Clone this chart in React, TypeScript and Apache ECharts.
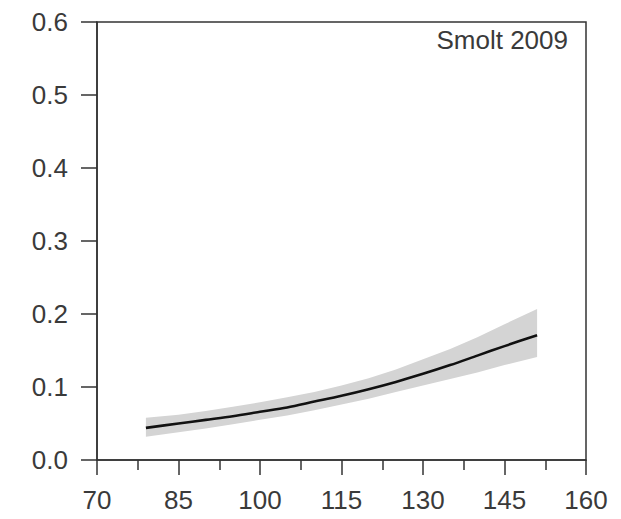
import React, { useEffect, useRef } from "react";
import * as echarts from "echarts";

const xValues = [79, 85, 90, 95, 100, 105, 110, 115, 120, 125, 130, 135, 140, 145, 151];
const meanValues = [0.044, 0.05, 0.055, 0.06, 0.066, 0.072, 0.08, 0.088, 0.097, 0.107, 0.118, 0.13, 0.143, 0.156, 0.171];
const upperValues = [0.058, 0.062, 0.067, 0.073, 0.079, 0.086, 0.093, 0.102, 0.112, 0.124, 0.138, 0.152, 0.168, 0.186, 0.207];
const lowerValues = [0.032, 0.038, 0.043, 0.049, 0.055, 0.061, 0.068, 0.076, 0.084, 0.093, 0.102, 0.111, 0.12, 0.13, 0.141];
const panelLabel = "Smolt 2009";

export default function App() {
  const ref = useRef<HTMLDivElement>(null);
  useEffect(() => {
    if (!ref.current) return;
    const chart = echarts.init(ref.current, undefined, { renderer: "svg" });
    const font = "'Liberation Sans', Arial, sans-serif";
    const axisColor = "#333";
    const textColor = "#3a3a3a";
    const bandData = xValues.map((x, i) => [x, lowerValues[i], upperValues[i]]);
    chart.setOption({
      animation: false,
      backgroundColor: "#fff",
      textStyle: { fontFamily: font },
      title: {
        text: panelLabel,
        right: 53,
        top: 27,
        padding: 0,
        textStyle: { fontSize: 26, fontWeight: "normal", color: textColor, fontFamily: font },
      },
      grid: {
        left: 97,
        right: 35,
        top: 22,
        bottom: 59,
        show: true,
        borderColor: axisColor,
        borderWidth: 1.5,
      },
      xAxis: {
        type: "value",
        min: 70,
        max: 160,
        interval: 15,
        axisLine: { show: true, lineStyle: { color: axisColor, width: 1.5 } },
        axisTick: { show: true, length: 15, lineStyle: { color: axisColor, width: 1.5 } },
        minorTick: { show: true, splitNumber: 2, length: 10, lineStyle: { color: axisColor, width: 1.5 } },
        splitLine: { show: false },
        axisLabel: { fontSize: 26, color: textColor, margin: 27, fontFamily: font },
      },
      yAxis: {
        type: "value",
        min: 0,
        max: 0.6,
        interval: 0.1,
        axisLine: { show: true, lineStyle: { color: axisColor, width: 1.5 } },
        axisTick: { show: true, length: 16, lineStyle: { color: axisColor, width: 1.5 } },
        splitLine: { show: false },
        axisLabel: {
          fontSize: 26,
          color: textColor,
          margin: 29,
          fontFamily: font,
          formatter: (v: number) => v.toFixed(1),
        },
      },
      series: [
        {
          type: "custom",
          data: bandData,
          silent: true,
          encode: { x: 0, y: [1, 2] },
          renderItem: (params: any, api: any) => {
            if (params.dataIndex !== 0) return null;
            const top = bandData.map((d) => api.coord([d[0], d[2]]));
            const bottom = bandData.map((d) => api.coord([d[0], d[1]])).reverse();
            return {
              type: "polygon",
              shape: { points: top.concat(bottom), smooth: 0 },
              style: { fill: "#d4d4d4", stroke: "none" },
            };
          },
        },
        {
          type: "line",
          data: xValues.map((x, i) => [x, meanValues[i]]),
          lineStyle: { color: "#111", width: 2.6 },
          symbol: "none",
          smooth: 0.3,
          z: 3,
        },
      ],
    });
    return () => chart.dispose();
  }, []);
  return <div ref={ref} style={{ width: 621, height: 519, margin: -8 }} />;
}
